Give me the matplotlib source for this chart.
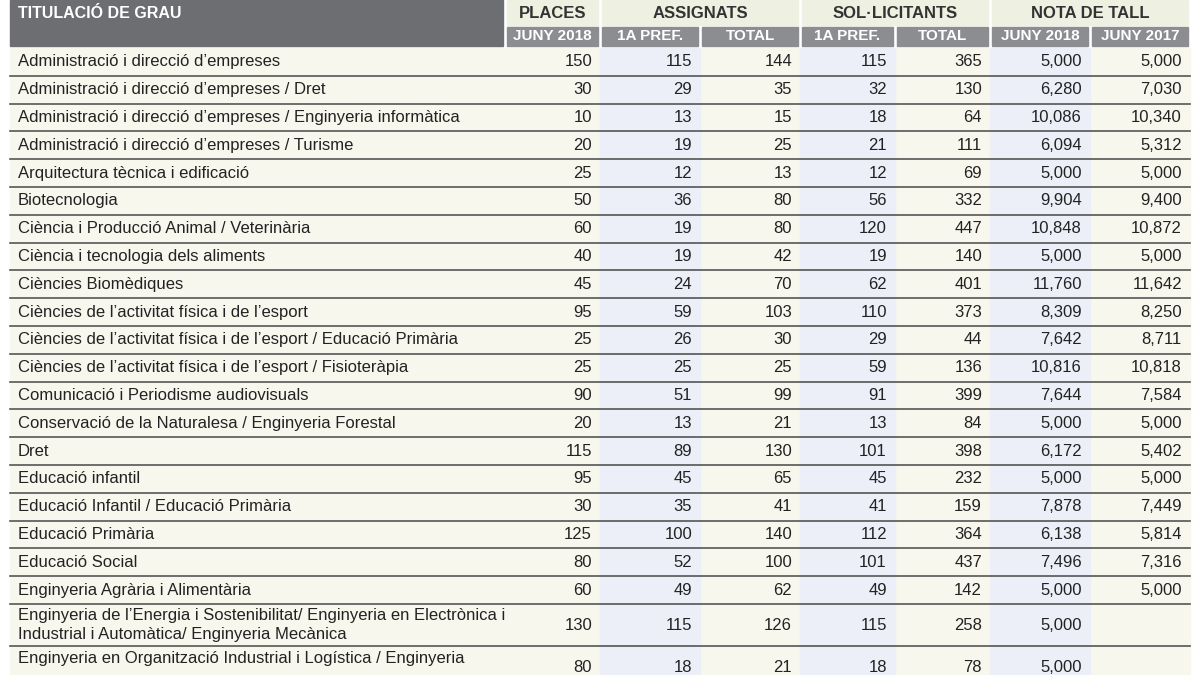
import matplotlib.pyplot as plt
from matplotlib.patches import Rectangle

degrees = [
    "Administració i direcció d’empreses",
    "Administració i direcció d’empreses / Dret",
    "Administració i direcció d’empreses / Enginyeria informàtica",
    "Administració i direcció d’empreses / Turisme",
    "Arquitectura tècnica i edificació",
    "Biotecnologia",
    "Ciència i Producció Animal / Veterinària",
    "Ciència i tecnologia dels aliments",
    "Ciències Biomèdiques",
    "Ciències de l’activitat física i de l’esport",
    "Ciències de l’activitat física i de l’esport / Educació Primària",
    "Ciències de l’activitat física i de l’esport / Fisioteràpia",
    "Comunicació i Periodisme audiovisuals",
    "Conservació de la Naturalesa / Enginyeria Forestal",
    "Dret",
    "Educació infantil",
    "Educació Infantil / Educació Primària",
    "Educació Primària",
    "Educació Social",
    "Enginyeria Agrària i Alimentària",
    "Enginyeria de l’Energia i Sostenibilitat/ Enginyeria en Electrònica i\nIndustrial i Automàtica/ Enginyeria Mecànica",
    "Enginyeria en Organització Industrial i Logística / Enginyeria",
]
places = [150, 30, 10, 20, 25, 50, 60, 40, 45, 95, 25, 25, 90, 20, 115, 95, 30, 125, 80, 60, 130, 80]
assig_1a = [115, 29, 13, 19, 12, 36, 19, 19, 24, 59, 26, 25, 51, 13, 89, 45, 35, 100, 52, 49, 115, 18]
assig_total = [144, 35, 15, 25, 13, 80, 80, 42, 70, 103, 30, 25, 99, 21, 130, 65, 41, 140, 100, 62, 126, 21]
sol_1a = [115, 32, 18, 21, 12, 56, 120, 19, 62, 110, 29, 59, 91, 13, 101, 45, 41, 112, 101, 49, 115, 18]
sol_total = [365, 130, 64, 111, 69, 332, 447, 140, 401, 373, 44, 136, 399, 84, 398, 232, 159, 364, 437, 142, 258, 78]
nota_2018 = ["5,000", "6,280", "10,086", "6,094", "5,000", "9,904", "10,848", "5,000", "11,760", "8,309",
             "7,642", "10,816", "7,644", "5,000", "6,172", "5,000", "7,878", "6,138", "7,496", "5,000", "5,000", "5,000"]
nota_2017 = ["5,000", "7,030", "10,340", "5,312", "5,000", "9,400", "10,872", "5,000", "11,642", "8,250",
             "8,711", "10,818", "7,584", "5,000", "5,402", "5,000", "7,449", "5,814", "7,316", "5,000", "", ""]

groups = [("PLACES", 1), ("ASSIGNATS", 2), ("SOL·LICITANTS", 2), ("NOTA DE TALL", 2)]
sub_headers = ["JUNY 2018", "1A PREF.", "TOTAL", "1A PREF.", "TOTAL", "JUNY 2018", "JUNY 2017"]

plt.rcParams['font.family'] = ['Liberation Sans Narrow', 'Liberation Sans']

fig = plt.figure(figsize=(12, 6.75), dpi=100)
ax = fig.add_axes([0, 0, 1, 1])
ax.set_xlim(0, 1200)
ax.set_ylim(675, 0)
ax.axis('off')

edges = [10, 505, 600, 700, 800, 895, 990, 1090, 1190]
shaded = {2, 4, 6}  # column indices (in edges) with blue tint
beige = '#f8f7ee'
blue = '#eceff8'
dark = '#6d6e71'
mid = '#8c8d90'

# header
ax.add_patch(Rectangle((edges[0], 0), edges[1] - edges[0] - 2, 46, color=dark))
ax.text(18, 14, "TITULACIÓ DE GRAU", color='white', fontsize=11.5, fontweight='bold', va='center')
col = 1
for name, span in groups:
    x0, x1 = edges[col] + 2, edges[col + span] - 2
    ax.add_patch(Rectangle((x0, 0), x1 - x0, 25, color='#eef0e2'))
    ax.text((x0 + x1) / 2, 13, name, fontsize=12, fontweight='bold', ha='center', va='center', color='#333333')
    col += span
for i, s in enumerate(sub_headers):
    x0, x1 = edges[i + 1] + 2, edges[i + 2] - 2
    ax.add_patch(Rectangle((x0, 27), x1 - x0, 19, color=mid))
    ax.text((x0 + x1) / 2, 36.5, s, fontsize=11, fontweight='bold', ha='center', va='center', color='white')

# body
y = 48
for i, name in enumerate(degrees):
    last = i == len(degrees) - 1
    h = 42 if ("\n" in name or last) else 27.8
    ax.add_patch(Rectangle((edges[0], y), edges[-1] - edges[0], h, color=beige, zorder=0))
    for c in shaded:
        ax.add_patch(Rectangle((edges[c], y), edges[c + 1] - edges[c], h, color=blue, zorder=0))
    cy = y + h / 2
    if last:
        ax.text(18, y + 13, name, fontsize=12, va='center', color='#222222')
    else:
        ax.text(18, cy, name, fontsize=12, va='center', color='#222222', linespacing=1.3)
    vals = [places[i], assig_1a[i], assig_total[i], sol_1a[i], sol_total[i], nota_2018[i], nota_2017[i]]
    for j, v in enumerate(vals):
        ax.text(edges[j + 2] - 8, cy, str(v), fontsize=12, ha='right', va='center', color='#222222')
    y += h
    ax.plot([edges[0], edges[-1]], [y, y], color='#555555', lw=1.2)

fig.savefig('out.png', dpi=100, facecolor='white')
